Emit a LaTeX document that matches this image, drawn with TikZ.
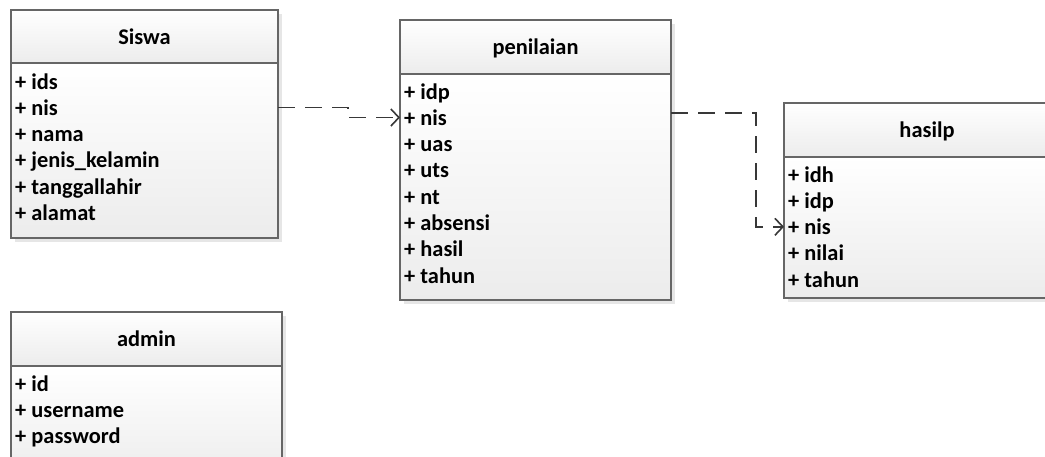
\documentclass[tikz,border=0pt]{standalone}
\usepackage{fontspec}
\setmainfont{Carlito}
\usetikzlibrary{arrows.meta}
\definecolor{bordc}{HTML}{666666}
\definecolor{linec}{HTML}{383838}
\definecolor{shadc}{HTML}{E6E6E6}
\definecolor{grb}{HTML}{ECECEC}
\tikzset{
  txt/.style={inner sep=0pt, font=\fontsize{22.4}{26}\selectfont\bfseries, text=black},
  row/.style={txt, anchor=base west},
  ttl/.style={txt, anchor=base},
  boxframe/.style={draw=bordc, line width=1.4pt, rectangle, inner sep=0pt, outer sep=0pt},
  conn/.style={draw=linec, line width=1.9pt, dash pattern=on 17pt off 10pt,
    -{Straight Barb[length=8pt,width=17pt,line width=1.6pt]}}
}
\newcommand\umlclass[8]{%
  \fill[shadc] ({#2+4},{#3+4}) rectangle ({#4+4},{#6+4});
  \shade[top color=white,bottom color=grb] (#2,#3) rectangle (#4,#5);
  \shade[top color=white,bottom color=grb] (#2,#5) rectangle (#4,#6);
  \node[boxframe, minimum width={#4-#2}, minimum height={#6-#3}] (#1) at ({(#2+#4)/2},{(#3+#6)/2}) {};
  \draw[draw=bordc, line width=1.4pt] (#1.west |- 0,#5) -- (#1.east |- 0,#5);
  \node[ttl] (#1-title) at ({(#2+#4)/2},#8) {#7};
}
\begin{document}
\begin{tikzpicture}[x=1pt,y=-1pt]
\useasboundingbox (0,0) rectangle (1045,456);
\clip (0,0) rectangle (1045,456);
\fill[white] (0,0) rectangle (1045,456);

% Siswa
\umlclass{siswa}{11}{10}{278}{63}{238}{Siswa}{44}
\foreach \t [count=\i] in {ids,nis,nama,jenis\_kelamin,tanggallahir,alamat}
  \node[row] (s\i) at (15,{89+(\i-1)*26.3}) {+ \t};

% penilaian
\umlclass{penilaian}{400}{20}{671}{74}{300}{penilaian}{54}
\foreach \t [count=\i] in {idp,nis,uas,uts,nt,absensi,hasil,tahun}
  \node[row] (p\i) at (404,{99+(\i-1)*26.3}) {+ \t};

% hasilp
\umlclass{hasilp}{784}{103}{1070}{157}{298}{hasilp}{137}
\foreach \t [count=\i] in {idh,idp,nis,nilai,tahun}
  \node[row] (h\i) at (788,{182+(\i-1)*26.3}) {+ \t};

% admin
\umlclass{admin}{11}{312}{282}{366}{480}{admin}{346}
\foreach \t [count=\i] in {id,username,password}
  \node[row] (a\i) at (15,{391+(\i-1)*26.3}) {+ \t};

% connectors
\coordinate (j1) at (348,0);
\coordinate (j2) at (756,113);
\draw[conn] (siswa.east |- s2) -| (j1 |- p2) -- (penilaian.west |- p2);
\draw[conn] (penilaian.east |- j2) -- (j2) |- (hasilp.west |- h3);
\end{tikzpicture}
\end{document}
